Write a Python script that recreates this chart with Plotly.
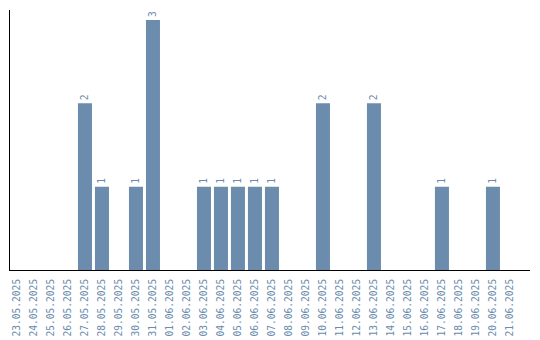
import plotly.graph_objects as go

dates = ["23.05.2025", "24.05.2025", "25.05.2025", "26.05.2025", "27.05.2025",
         "28.05.2025", "29.05.2025", "30.05.2025", "31.05.2025", "01.06.2025",
         "02.06.2025", "03.06.2025", "04.06.2025", "05.06.2025", "06.06.2025",
         "07.06.2025", "08.06.2025", "09.06.2025", "10.06.2025", "11.06.2025",
         "12.06.2025", "13.06.2025", "14.06.2025", "15.06.2025", "16.06.2025",
         "17.06.2025", "18.06.2025", "19.06.2025", "20.06.2025", "21.06.2025"]
counts = [0, 0, 0, 0, 2, 1, 0, 1, 3, 0, 0, 1, 1, 1, 1, 1, 0, 0, 2, 0,
          0, 2, 0, 0, 0, 1, 0, 0, 1, 0]

labels = [str(v) if v > 0 else "" for v in counts]
color = "#6b8cad"
font_family = "DejaVu Sans Mono"

fig = go.Figure(go.Bar(
    x=dates, y=counts, marker=dict(color=color, line=dict(width=0)),
    text=labels, textposition="outside", textangle=-90,
    textfont=dict(family=font_family, size=9.6, color=color),
    cliponaxis=False, hoverinfo="skip",
))

fig.update_layout(
    width=540, height=340,
    margin=dict(l=10, r=10, t=10, b=70, autoexpand=False),
    paper_bgcolor="white", plot_bgcolor="white",
    bargap=0.176, showlegend=False,
    font=dict(family=font_family, size=9.6, color=color),
)
fig.update_xaxes(
    type="category", range=[-0.41, 30.18], automargin=False,
    showline=True, linecolor="black", linewidth=1,
    showgrid=False, zeroline=False, ticks="", ticklabelstandoff=4,
    tickangle=-90, tickfont=dict(family=font_family, size=9.6, color=color),
)
fig.update_yaxes(
    range=[0, 3.12], showline=True, linecolor="black", linewidth=1,
    showgrid=False, zeroline=False, showticklabels=False, ticks="",
)

fig.write_html("out.html")
